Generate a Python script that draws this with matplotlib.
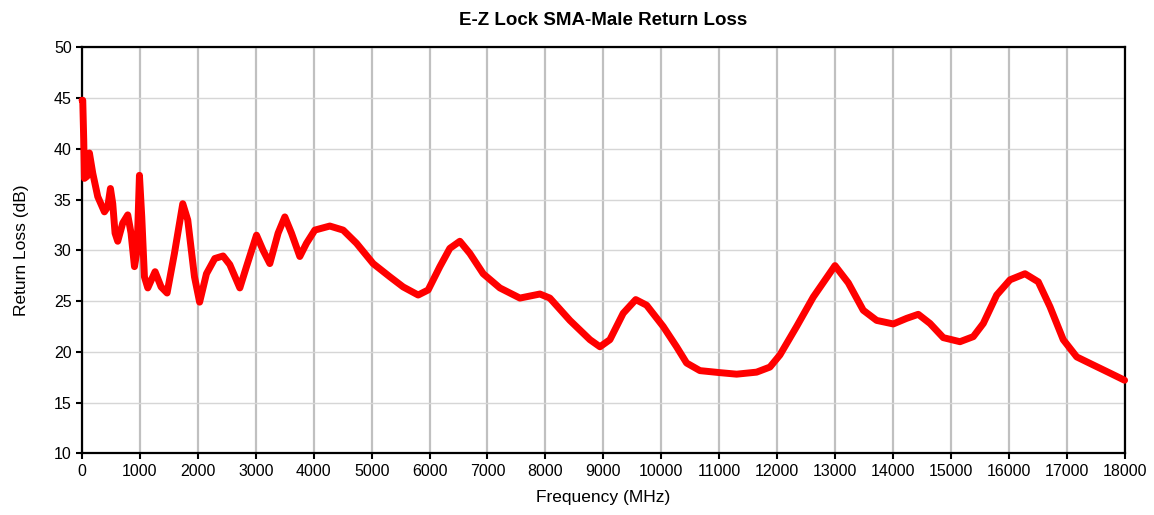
import numpy as np
import matplotlib.pyplot as plt
import matplotlib as mpl

mpl.rcParams["font.family"] = "sans-serif"
mpl.rcParams["font.sans-serif"] = ["Liberation Sans", "DejaVu Sans"]

# data (MHz, dB)
freq_mhz = [0, 12, 29, 41, 86, 127, 185, 271, 386, 444, 490, 530, 570, 616, 703,
            789, 846, 905, 950, 991, 1031, 1077, 1135, 1261, 1365, 1468, 1595,
            1739, 1825, 1941, 2030, 2148, 2292, 2435, 2551, 2724, 2839, 3012,
            3126, 3242, 3385, 3501, 3616, 3760, 3875, 4019, 4278, 4508, 4739,
            5026, 5314, 5544, 5803, 5976, 6178, 6350, 6523, 6696, 6926, 7214,
            7560, 7905, 8077, 8423, 8769, 8942, 9114, 9343, 9560, 9747, 10034,
            10265, 10438, 10668, 11013, 11302, 11647, 11877, 12050, 12338, 12625,
            13000, 13230, 13488, 13719, 14006, 14237, 14438, 14640, 14870, 15158,
            15388, 15561, 15792, 16022, 16281, 16510, 16712, 16941, 17174, 17461,
            17750, 18000]
return_loss = [44.8, 44.8, 40.9, 37.1, 37.3, 39.6, 37.6, 35.3, 33.8, 34.3, 36.1,
               34.6, 31.7, 30.9, 32.7, 33.5, 31.7, 28.4, 30.0, 37.4, 33.3, 27.4,
               26.3, 27.9, 26.4, 25.8, 29.7, 34.6, 33.0, 27.4, 24.9, 27.7, 29.2,
               29.45, 28.6, 26.3, 28.4, 31.5, 30.0, 28.7, 31.7, 33.3, 31.7, 29.4,
               30.7, 32.0, 32.4, 32.0, 30.7, 28.7, 27.4, 26.4, 25.6, 26.1, 28.4,
               30.2, 30.9, 29.7, 27.7, 26.3, 25.3, 25.7, 25.3, 23.1, 21.2, 20.5,
               21.2, 23.8, 25.15, 24.6, 22.5, 20.5, 18.9, 18.15, 17.95, 17.8, 18.0,
               18.5, 19.7, 22.5, 25.4, 28.5, 26.8, 24.1, 23.1, 22.75, 23.3, 23.7,
               22.8, 21.4, 21.0, 21.5, 22.8, 25.6, 27.1, 27.7, 26.9, 24.45, 21.2,
               19.5, 18.7, 17.9, 17.2]

x_ticks = list(range(0, 18001, 1000))
y_ticks = list(range(10, 51, 5))

fig = plt.figure(figsize=(11.54, 5.15), dpi=100)
ax = fig.add_axes([0.0711, 0.1198, 0.9034, 0.788])

ax.plot(freq_mhz, return_loss, color="#ff0000", linewidth=5.0,
        solid_joinstyle="round", solid_capstyle="round", zorder=3, clip_on=False)

ax.set_xlim(0, 18000)
ax.set_ylim(10, 50)
ax.set_xticks(x_ticks)
ax.set_yticks(y_ticks)
ax.tick_params(direction="out", length=4, width=1.5, labelsize=11.5, colors="black")
ax.grid(axis="x", color="#c0c0c0", linewidth=1.6)
ax.grid(axis="y", color="#d6d6d6", linewidth=1.0)
ax.set_axisbelow(True)
for s in ax.spines.values():
    s.set_linewidth(1.6)
    s.set_color("black")

ax.set_xlabel("Frequency (MHz)", fontsize=12.5, labelpad=8)
ax.set_ylabel("Return Loss (dB)", fontsize=12.5, labelpad=18)
ax.set_title("E-Z Lock SMA-Male Return Loss", fontsize=13.5, fontweight="bold", pad=16)

fig.savefig("out.png", dpi=100)
